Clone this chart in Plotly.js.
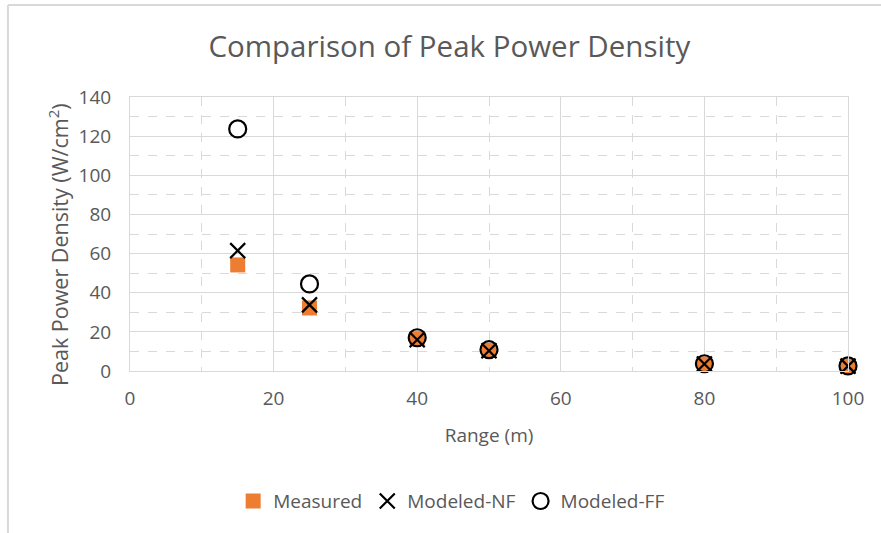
<!DOCTYPE html>
<html><head><meta charset="utf-8">
<script src="https://cdn.plot.ly/plotly-3.0.1.min.js"></script>
<style>html,body{margin:0;padding:0;background:#fff}#chart{width:881px;height:533px}</style>
</head><body><div id="chart"></div>
<script>
const ranges = [15, 25, 40, 50, 80, 100];
const measured = [54.2, 32.2, 16.5, 10.5, 3.5, 2.4];
const modeledNF = [61.5, 33.8, 16.0, 10.3, 3.6, 2.5];
const modeledFF = [123.7, 44.5, 17.0, 10.9, 3.7, 2.6];
const xTicks = [0, 20, 40, 60, 80, 100];
const yTicks = [0, 20, 40, 60, 80, 100, 120, 140];

const txt = '#595959';
const fnt = 'Open Sans, Noto Sans, sans-serif';
const traces = [
  {x: ranges, y: measured, name: 'Measured', type: 'scatter', mode: 'markers', cliponaxis: false,
   marker: {symbol: 'square', size: 15, color: '#ED7D31'}},
  {x: ranges, y: modeledNF, name: 'Modeled-NF', type: 'scatter', mode: 'markers', cliponaxis: false,
   marker: {symbol: 'x-thin-open', size: 15, color: '#000', line: {color: '#000', width: 2.2}}},
  {x: ranges, y: modeledFF, name: 'Modeled-FF', type: 'scatter', mode: 'markers', cliponaxis: false,
   marker: {symbol: 'circle-open', size: 17, color: '#000', line: {color: '#000', width: 2.2}}}
];
const layout = {
  width: 881, height: 533,
  margin: {l: 130, r: 33, t: 97, b: 162},
  paper_bgcolor: '#fff', plot_bgcolor: '#fff',
  font: {family: fnt, color: txt, size: 19},
  title: {text: 'Comparison of Peak Power Density', x: 0.51, xanchor: 'center', y: 0.912, yanchor: 'middle',
          font: {size: 29.5, color: txt, family: fnt}},
  xaxis: {range: [0, 100], tickvals: xTicks, ticktext: xTicks.map(String), showgrid: true, gridcolor: '#d9d9d9', gridwidth: 1,
          minor: {dtick: 10, showgrid: true, gridcolor: '#d9d9d9', griddash: 'dash'},
          zeroline: false, showline: true, linecolor: '#d9d9d9', mirror: true, ticks: '',
          tickfont: {size: 19, color: txt}, ticklabelstandoff: 10,
          title: {text: 'Range (m)', font: {size: 19, color: txt}, standoff: 18}},
  yaxis: {range: [0, 140], tickvals: yTicks, ticktext: yTicks.map(String), showgrid: true, gridcolor: '#d9d9d9', gridwidth: 1,
          minor: {dtick: 10, showgrid: true, gridcolor: '#d9d9d9', griddash: 'dash'},
          zeroline: false, showline: true, linecolor: '#d9d9d9', mirror: true, ticks: '',
          tickfont: {size: 19, color: txt}, ticklabelstandoff: 14},
  annotations: [
    {text: 'Peak Power Density (W/cm<sup>2</sup>)', xref: 'paper', yref: 'paper',
     x: (58 - 130) / 718, y: (371 - 245) / 274, xanchor: 'center', yanchor: 'middle',
     textangle: -90, showarrow: false, font: {size: 21.5, color: txt, family: fnt}}
  ],
  legend: {orientation: 'h', x: 0.448, xanchor: 'center', y: -0.475, yanchor: 'middle',
           font: {size: 19, color: txt}, itemwidth: 30, traceorder: 'normal'},
  shapes: [
    {type: 'line', xref: 'paper', yref: 'paper', x0: -0.17, x1: -0.17, y0: 1.336, y1: -0.6, line: {color: '#d9d9d9', width: 2}},
    {type: 'line', xref: 'paper', yref: 'paper', x0: -0.17, x1: 1.06, y0: 1.336, y1: 1.336, line: {color: '#d9d9d9', width: 2}}
  ],
  showlegend: true
};
Plotly.newPlot('chart', traces, layout, {displayModeBar: false, staticPlot: true});
</script></body></html>
